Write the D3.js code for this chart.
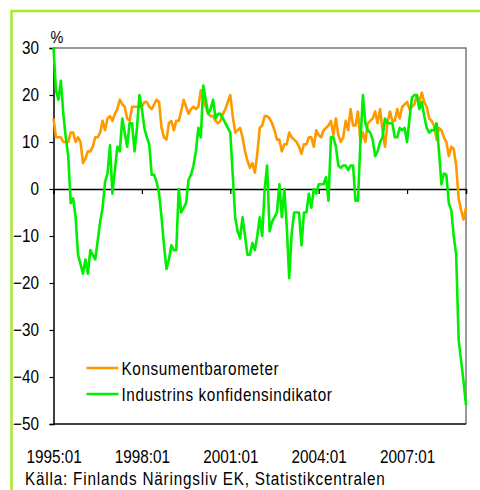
<!DOCTYPE html>
<html>
<head>
<meta charset="utf-8">
<script src="https://cdn.jsdelivr.net/npm/d3@7"></script>
<style>
  body { margin: 0; background: #fff; }
  text { font-family: "Liberation Sans", Arial, sans-serif; fill: #000; }
</style>
</head>
<body>
<div id="my_dataviz"></div>
<script>
// monthly series, 1995:01 .. 2009:01
const konsument = [
  15, 11, 11, 11, 10, 10, 10, 12, 12, 10, 11, 10,
  5.5, 6.5, 8, 8, 9, 11, 11, 12, 14.5, 12.5, 15, 15.5,
  14.5, 16, 17, 19, 18, 17.5, 15, 14.5, 17.5, 17.5, 17.5, 17.5,
  17.5, 18.5, 18.5, 17.5, 17, 18, 19, 18.5, 13, 11, 10.5, 14,
  14.5, 12.5, 14.5, 14.5, 16.5, 19, 17.5, 16, 17, 17.5, 17, 17.5,
  21, 19, 17.5, 16, 15.5, 15.5, 14.5, 14, 14.5, 16, 17, 18.5,
  20, 15.5, 12, 12.5, 13, 11, 8, 6, 4.5, 5.5, 3.5, 7.5,
  13, 13.5, 15.5, 15.5, 15, 14, 12.5, 10.5, 10.5, 8, 9.5, 9.5,
  12, 11, 10.5, 10, 9, 7.5, 9.5, 9.5, 11, 11, 9, 12.5,
  11.5, 11, 12.5, 13, 13.5, 14.5, 11.5, 15, 11.5, 10, 11, 14.5,
  12.5, 17, 13.5, 13.5, 16.5, 10, 12, 10, 14, 14.5, 15, 16.5,
  14, 17, 12.5, 9, 14, 16.5, 14.5, 14.5, 17, 15, 17.5, 18,
  18.5, 17, 17.5, 18, 20, 18.5, 20.5, 18.5, 17.5, 15, 14.5, 13.5,
  10.5, 13, 12.5, 11, 10, 7, 9, 8.5, 5, -2, -4.5, -6.5,
  -4
]

const industri = [
  30, 21, 19, 23, 16, 11, 7, -3, -2, -6, -14, -16,
  -18, -15, -18, -13, -14, -15, -11, -7, -4, 1.5, 3.3, 9.3,
  -1, 4, 9, 8, 15, 12, 9, 14, 14, 8, 13, 20,
  17, 13, 11, 9.5, 3, 3, 1.5, -1, -6, -12, -17, -15,
  -12, -13, -13, 0, -5, -4, -3, 2, 3, 5, 8, 13,
  11, 22, 19, 16, 17, 19, 15, 16, 16, 15, 14, 13,
  12, 3, -6, -9, -10.5, -6, -10, -14, -14, -11.5, -13, -10,
  -6, -10, 0, 5, -9, -7, -6, -5, 1, -6, 0, -8,
  -19, -9.5, -5, -5, -5, -12, -5, -5, -1, -4, 0, -1,
  1, 1, 1, 2.5, -2.5, 11, 11, 9, 5, 4.5, 5, 5,
  4, 5, 5, -2.5, -2.5, 10, 20, 14, 12.5, 12, 10.5, 7,
  8, 10, 11, 15, 14, 14, 14, 11, 11, 13, 12.5, 13,
  10, 15, 19.5, 20, 20, 17, 18.5, 15.5, 13, 12, 12.5, 12.5,
  14, 8, 1, 3.3, 3, -3, -4.5, -10, -14, -32, -36.5, -41,
  -46
]

const xTickLabels = ["1995:01", "1998:01", "2001:01", "2004:01", "2007:01"]
const yTicks = [30, 20, 10, 0, -10, -20, -30, -40, -50]
const seriesNames = ["Konsumentbarometer", "Industrins konfidensindikator"]
const seriesColors = ["#ff9900", "#00ee00"]

// month labels 1995:01 ...
const months = []
for (let i = 0; i < konsument.length; i++) {
  const yr = 1995 + Math.floor(i / 12)
  const mo = (i % 12) + 1
  months.push(yr + ":" + (mo < 10 ? "0" + mo : mo))
}

// narrow look of the original font
const sx = 0.85

const margin = {top: 48, right: 14, bottom: 66, left: 53.5},
      width = 480 - margin.left - margin.right,
      height = 490 - margin.top - margin.bottom;

const root = d3.select("#my_dataviz")
  .append("svg")
  .attr("width", 480)
  .attr("height", 490)

// green outer frame (runs off the right/bottom edge)
root.append("rect")
  .attr("x", 11.5).attr("y", 11)
  .attr("width", 500).attr("height", 500)
  .attr("fill", "none")
  .attr("stroke", "#a8ea2c")
  .attr("stroke-width", 2.5)

const svg = root.append("g")
  .attr("transform", `translate(${margin.left}, ${margin.top})`);

const x = d3.scalePoint()
  .domain(months)
  .range([0, width])

const y = d3.scaleLinear()
  .domain([-50, 30])
  .range([height, 0])

// grey top / right frame of plot area
svg.append("path")
  .attr("d", `M0,0H${width}V${height}`)
  .attr("fill", "none")
  .attr("stroke", "#7a7a7a")
  .attr("stroke-width", 1.5)

// y axis
svg.append("g")
  .call(d3.axisLeft(y).tickValues(yTicks).tickSize(4).tickPadding(10))
  .call(g => g.select(".domain").attr("stroke", "#000").attr("stroke-width", 1.5))
  .call(g => g.selectAll(".tick line").attr("stroke", "#000").attr("stroke-width", 1.2))
  .call(g => g.selectAll(".tick text")
    .attr("font-size", 18).style("font-family", null)
    .attr("x", -14.5 / sx)
    .attr("transform", `scale(${sx},1)`))

// bottom axis line
svg.append("line")
  .attr("x1", 0).attr("x2", width)
  .attr("y1", height).attr("y2", height)
  .attr("stroke", "#000").attr("stroke-width", 1.5)

// zero line with year ticks
svg.append("g")
  .attr("transform", `translate(0, ${y(0)})`)
  .call(d3.axisBottom(x).tickValues(xTickLabels).tickSize(5).tickFormat(""))
  .call(g => g.select(".domain").attr("stroke", "#000").attr("stroke-width", 1.5))
  .call(g => g.selectAll(".tick line").attr("stroke", "#000").attr("stroke-width", 1.2))

// x tick labels under the plot
svg.append("g")
  .attr("transform", `translate(0, ${height})`)
  .call(d3.axisBottom(x).tickValues(xTickLabels).tickSize(0).tickPadding(26))
  .call(g => g.select(".domain").remove())
  .call(g => g.selectAll(".tick text")
    .attr("font-size", 18).style("font-family", null)
    .attr("transform", `scale(${sx},1)`))

// % label
svg.append("text")
  .attr("x", -3 / sx).attr("y", -5)
  .attr("font-size", 17)
  .attr("transform", `scale(${sx},1)`)
  .text("%")

// the two lines
const line = d3.line()
  .x((d, i) => x(months[i]))
  .y(d => y(d))

const allSeries = [konsument, industri]

svg.selectAll("myPath")
  .data(allSeries)
  .join("path")
    .attr("d", line)
    .attr("fill", "none")
    .attr("stroke", (d, i) => seriesColors[i])
    .attr("stroke-width", 2.6)
    .attr("stroke-linejoin", "round")

// legend
const legend = svg.selectAll("myLegend")
  .data(seriesNames)
  .join("g")
    .attr("transform", (d, i) => `translate(33, ${320 + i * 26})`)

legend.append("line")
  .attr("x1", 0).attr("x2", 32)
  .attr("stroke", (d, i) => seriesColors[i])
  .attr("stroke-width", 2.6)

legend.append("text")
  .attr("x", 35 / sx).attr("y", 7)
  .attr("font-size", 18)
  .attr("letter-spacing", 0.7)
  .attr("transform", `scale(${sx},1)`)
  .text(d => d)

// source
root.append("text")
  .attr("x", 25 / sx).attr("y", 485)
  .attr("font-size", 18)
  .attr("letter-spacing", 0.95)
  .attr("transform", `scale(${sx},1)`)
  .text("Källa: Finlands Näringsliv EK, Statistikcentralen")
</script>
</body>
</html>
